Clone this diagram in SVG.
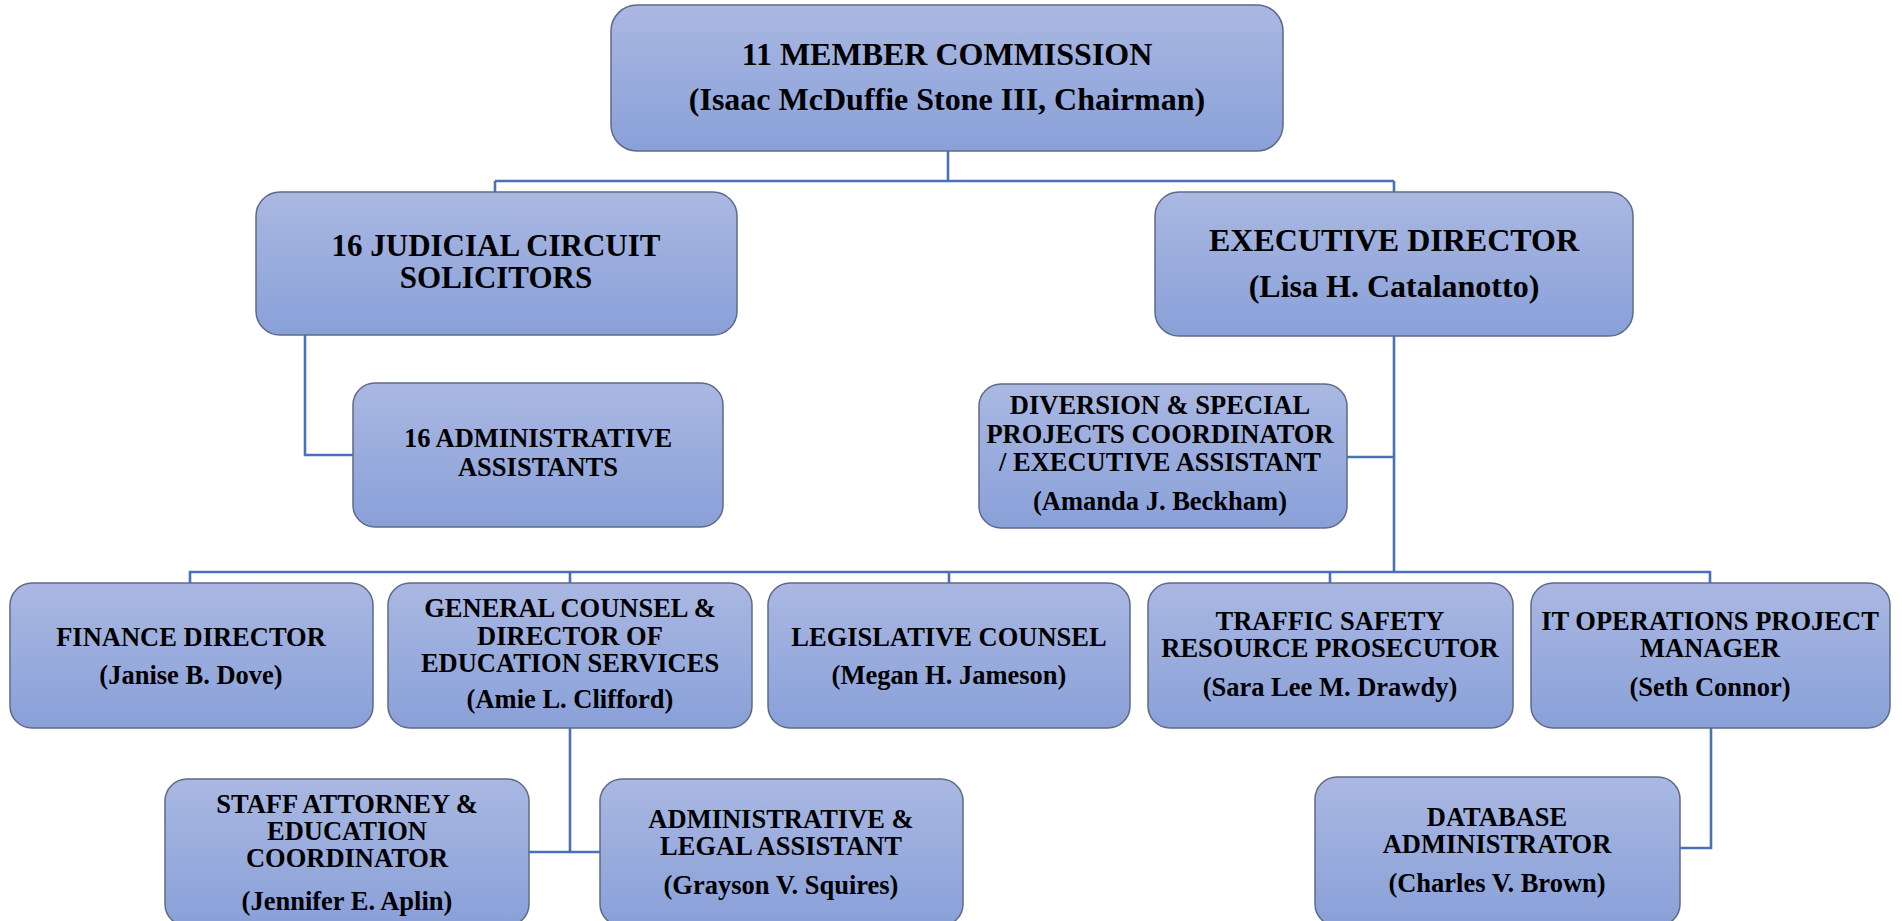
<svg xmlns="http://www.w3.org/2000/svg" width="1902" height="921" viewBox="0 0 1902 921">
<defs>
<linearGradient id="boxfill" x1="0" y1="0" x2="0" y2="1">
<stop offset="0" stop-color="#AAB8E2"/>
<stop offset="1" stop-color="#89A0D8"/>
</linearGradient>
<style>
.box{fill:url(#boxfill);stroke:#5F6A86;stroke-width:1.5}
.t{font-family:"Liberation Serif","Times New Roman",serif;font-weight:bold;fill:#000;text-anchor:middle}
.big{font-size:32px}
.mid{font-size:31px}
.sm{font-size:26.5px}
.conn{fill:none;stroke:#4A70B8;stroke-width:2.6}
</style>
</defs>
<rect width="1902" height="921" fill="#FFFFFF"/>
<g id="connectors">
<path class="conn" d="M948 151 V181 M495 181 H1394 M495 181 V192 M1394 181 V192"/>
<path class="conn" d="M305 335 V455 H353"/>
<path class="conn" d="M1394 336 V572 M1347 457 H1394"/>
<path class="conn" d="M190 583 V572 H1710 V583 M570 572 V583 M949 572 V583 M1330 572 V583"/>
<path class="conn" d="M570 728 V852 M529 852 H600"/>
<path class="conn" d="M1711 728 V848 H1680"/>
</g>
<g id="commission">
<rect class="box" x="611" y="5" width="672" height="146" rx="26"/>
<text class="t big" x="947" y="65">11 MEMBER COMMISSION</text>
<text class="t big" x="947" y="110">(Isaac McDuffie Stone III, Chairman)</text>
</g>
<g id="solicitors">
<rect class="box" x="256" y="192" width="481" height="143" rx="24"/>
<text class="t mid" x="496" y="256">16 JUDICIAL CIRCUIT</text>
<text class="t mid" x="496" y="288">SOLICITORS</text>
</g>
<g id="executive-director">
<rect class="box" x="1155" y="192" width="478" height="144" rx="24"/>
<text class="t big" x="1394" y="251">EXECUTIVE DIRECTOR</text>
<text class="t big" x="1394" y="297">(Lisa H. Catalanotto)</text>
</g>
<g id="admin-assistants">
<rect class="box" x="353" y="383" width="370" height="144" rx="22"/>
<text class="t sm" x="538" y="447">16 ADMINISTRATIVE</text>
<text class="t sm" x="538" y="476">ASSISTANTS</text>
</g>
<g id="diversion">
<rect class="box" x="979" y="384" width="368" height="144" rx="22"/>
<text class="t sm" x="1160" y="414">DIVERSION &amp; SPECIAL</text>
<text class="t sm" x="1160" y="443">PROJECTS COORDINATOR</text>
<text class="t sm" x="1160" y="471">/ EXECUTIVE ASSISTANT</text>
<text class="t sm" x="1160" y="510">(Amanda J. Beckham)</text>
</g>
<g id="finance">
<rect class="box" x="10" y="583" width="363" height="145" rx="22"/>
<text class="t sm" x="191" y="646">FINANCE DIRECTOR</text>
<text class="t sm" x="191" y="684">(Janise B. Dove)</text>
</g>
<g id="general-counsel">
<rect class="box" x="388" y="583" width="364" height="145" rx="22"/>
<text class="t sm" x="570" y="617">GENERAL COUNSEL &amp;</text>
<text class="t sm" x="570" y="645">DIRECTOR OF</text>
<text class="t sm" x="570" y="672">EDUCATION SERVICES</text>
<text class="t sm" x="570" y="708">(Amie L. Clifford)</text>
</g>
<g id="legislative">
<rect class="box" x="768" y="583" width="362" height="145" rx="22"/>
<text class="t sm" x="949" y="646">LEGISLATIVE COUNSEL</text>
<text class="t sm" x="949" y="684">(Megan H. Jameson)</text>
</g>
<g id="traffic">
<rect class="box" x="1148" y="583" width="365" height="145" rx="22"/>
<text class="t sm" x="1330" y="630">TRAFFIC SAFETY</text>
<text class="t sm" x="1330" y="657">RESOURCE PROSECUTOR</text>
<text class="t sm" x="1330" y="696">(Sara Lee M. Drawdy)</text>
</g>
<g id="it-operations">
<rect class="box" x="1531" y="583" width="359" height="145" rx="22"/>
<text class="t sm" x="1710" y="630">IT OPERATIONS PROJECT</text>
<text class="t sm" x="1710" y="657">MANAGER</text>
<text class="t sm" x="1710" y="696">(Seth Connor)</text>
</g>
<g id="staff-attorney">
<rect class="box" x="165" y="779" width="364" height="147" rx="22"/>
<text class="t sm" x="347" y="813">STAFF ATTORNEY &amp;</text>
<text class="t sm" x="347" y="840">EDUCATION</text>
<text class="t sm" x="347" y="867">COORDINATOR</text>
<text class="t sm" x="347" y="910">(Jennifer E. Aplin)</text>
</g>
<g id="admin-legal">
<rect class="box" x="600" y="779" width="363" height="147" rx="22"/>
<text class="t sm" x="781" y="828">ADMINISTRATIVE &amp;</text>
<text class="t sm" x="781" y="855">LEGAL ASSISTANT</text>
<text class="t sm" x="781" y="894">(Grayson V. Squires)</text>
</g>
<g id="database-admin">
<rect class="box" x="1315" y="777" width="365" height="149" rx="22"/>
<text class="t sm" x="1497" y="826">DATABASE</text>
<text class="t sm" x="1497" y="853">ADMINISTRATOR</text>
<text class="t sm" x="1497" y="892">(Charles V. Brown)</text>
</g>
</svg>
